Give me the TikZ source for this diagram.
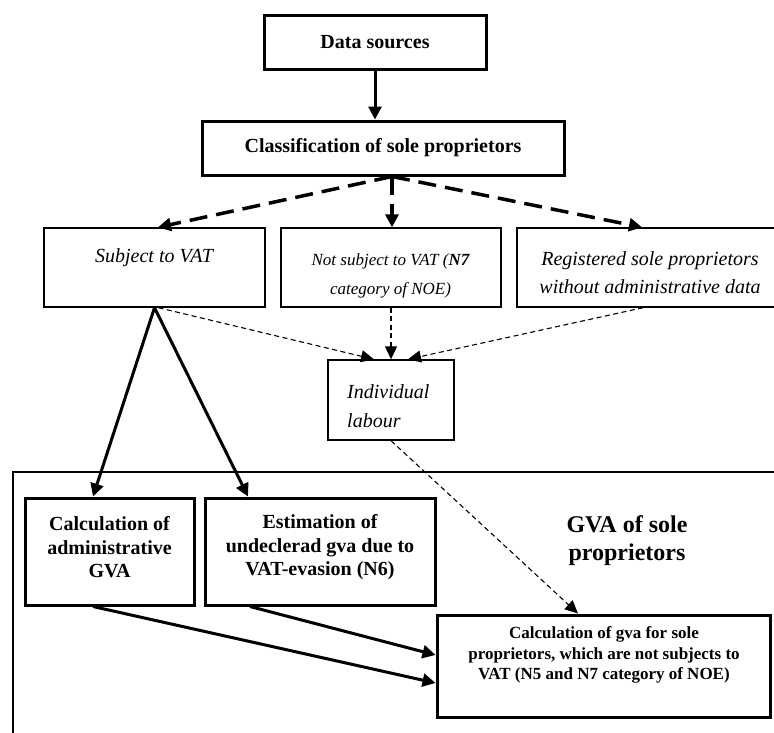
\documentclass[tikz,border=0pt]{standalone}
\usepackage{fontspec}
\setmainfont{Liberation Serif}
\usetikzlibrary{arrows.meta}
\tikzset{
  thickbox/.style={draw, line width=3pt, inner sep=0pt},
  thinbox/.style={draw, line width=1.4pt, inner sep=0pt},
  solidarrow/.style={line width=3pt, -{Triangle[length=13pt,width=13pt]}},
  dasharrow/.style={line width=3.5pt, dash pattern=on 18pt off 9pt, -{Triangle[length=13pt,width=13pt]}},
  dotarrow/.style={line width=1.1pt, dash pattern=on 5pt off 3.5pt, -{Triangle[length=13pt,width=12pt]}},
  txt/.style={inner sep=0pt, align=center},
  outerframe/.style={line width=2.5pt},
}
\begin{document}
\begin{tikzpicture}[x=1pt,y=-1pt, font=\fontsize{20pt}{29pt}\selectfont]
\useasboundingbox (0,0) rectangle (774,732);
\clip (0,0) rectangle (774,732);

% outer frame (only top and left edges are visible)
\draw[outerframe] (800,472) -- (13,472) -- (13,760);

\node[thickbox, minimum width=222pt, minimum height=54pt] (data) at (375,42) {\bfseries Data sources};
\node[thickbox, minimum width=362pt, minimum height=54pt] (cls) at (383,148) {\bfseries Classification of sole proprietors};

\node[thinbox, minimum width=221pt, minimum height=79pt] (subj) at (154.5,267.5) {};
\node[txt, font=\fontsize{20pt}{29pt}\selectfont\itshape] (subjt) at (154,258) {Subject to VAT};

\node[thinbox, minimum width=220pt, minimum height=79pt] (nots) at (391,267.5) {};
\node[txt, font=\fontsize{17pt}{29pt}\selectfont\itshape] (notst) at (390.5,275.5) {Not subject to VAT (\textbf{N7}\\category of NOE)};

\node[thinbox, minimum width=261pt, minimum height=79pt] (reg) at (647.5,267.5) {};
\node[txt, font=\fontsize{20pt}{28pt}\selectfont\itshape] (regt) at (650,273) {Registered sole proprietors\\without administrative data};

\node[thinbox, minimum width=126pt, minimum height=80pt] (ind) at (391,400) {};
\node[txt, align=left, anchor=west, font=\fontsize{20pt}{29pt}\selectfont\itshape] (indt) at (347,406) {Individual\\labour};

\node[thickbox, minimum width=169pt, minimum height=107pt] (admin) at (109.5,551.5) {};
\node[txt, font=\fontsize{20pt}{23.5pt}\selectfont\bfseries] (admint) at (109.5,547.5) {Calculation of\\administrative\\GVA};

\node[thickbox, minimum width=230pt, minimum height=107pt] (est) at (320,551.5) {};
\node[txt, font=\fontsize{20pt}{23.5pt}\selectfont\bfseries] (estt) at (320,547.5) {Estimation of\\undeclerad gva due to\\VAT-evasion (N6)};

\node[txt, font=\fontsize{24pt}{28pt}\selectfont\bfseries] (gva) at (627,541) {GVA of sole\\proprietors};

\node[thickbox, minimum width=333pt, minimum height=102pt] (bot) at (603.5,666) {};
\node[txt, font=\fontsize{17pt}{20.5pt}\selectfont\bfseries] (bott) at (604,655) {Calculation of gva for sole\\proprietors, which are not subjects to\\VAT (N5 and N7 category of NOE)};

% connectors
\draw[solidarrow] (data.south) -- (data.south |- cls.north);
\draw[dasharrow] ([xshift=9pt]cls.south) -- ([xshift=3.5pt]subj.north);
\draw[dasharrow] ([xshift=9pt]cls.south) -- ([xshift=1pt]nots.north);
\draw[dasharrow] ([xshift=9pt]cls.south) -- ([xshift=-5.5pt]reg.north);

\draw[solidarrow] (subj.south) -- ([xshift=-16.5pt]admin.north);
\draw[solidarrow] (subj.south) -- ([xshift=-72pt]est.north);

\draw[dotarrow] ([xshift=4pt]subj.south) -- ([xshift=-17pt]ind.north);
\draw[dotarrow] (nots.south) -- (ind.north);
\draw[dotarrow] ([xshift=-4.5pt]reg.south) -- ([xshift=17pt]ind.north);
\draw[dotarrow] (ind.south) -- ([xshift=-25.5pt]bot.north);

\draw[solidarrow] ([xshift=-16.5pt]admin.south) -- ([yshift=-17pt]bot.west);
\draw[solidarrow] ([xshift=-70pt]est.south) -- ([yshift=11pt]bot.west);
\end{tikzpicture}
\end{document}
